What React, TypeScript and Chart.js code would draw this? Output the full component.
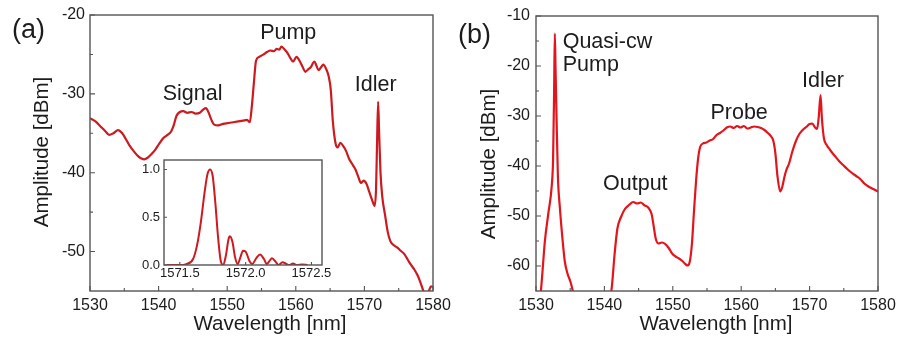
import React, { useEffect, useRef } from "react";
import { Chart, registerables } from "chart.js";

Chart.register(...registerables);

const FONT = "'Liberation Sans', Arial, Helvetica, sans-serif";
const TEXT = "#1c1c1c";
const FRAME = "#555555";

// ---------- Panel (a) ----------
const A_WAVELENGTH = [
  1530.0, 1530.8, 1531.5, 1532.2, 1532.8, 1533.4, 1534.1, 1534.7, 1535.2, 1535.8,
  1536.4, 1537.0, 1537.5, 1537.9, 1538.4, 1538.9, 1539.5, 1540.1, 1540.7, 1541.3,
  1541.8, 1542.2, 1542.6, 1543.1, 1543.6, 1544.2, 1544.8, 1545.4, 1546.0, 1546.5,
  1546.9, 1547.3, 1547.7, 1548.1, 1548.7, 1549.4, 1550.2, 1550.9, 1551.6, 1552.3,
  1552.9, 1553.3, 1553.6, 1553.9, 1554.2, 1554.7, 1555.3, 1555.8, 1556.3, 1556.8,
  1557.2, 1557.6, 1557.9, 1558.3, 1558.7, 1559.1, 1559.6, 1560.1, 1560.6, 1561.0,
  1561.4, 1561.8, 1562.2, 1562.7, 1563.0, 1563.3, 1563.7, 1564.0, 1564.4, 1564.8,
  1565.1, 1565.4, 1565.8, 1566.1, 1566.5, 1566.9, 1567.3, 1567.8, 1568.3, 1568.7,
  1569.1, 1569.5, 1569.9, 1570.3, 1570.7, 1571.1, 1571.5, 1571.7, 1571.85, 1572.0,
  1572.15, 1572.35, 1572.6, 1573.0, 1573.4, 1573.8, 1574.3, 1574.8, 1575.3, 1575.8,
  1576.3, 1576.8, 1577.3, 1577.8, 1578.2, 1578.6, 1579.0, 1579.4, 1579.7, 1580.0,
];
const A_AMPLITUDE = [
  -33.1, -33.5, -34.1, -34.7, -35.2, -35.0, -34.6, -35.0, -35.7, -36.6,
  -37.3, -37.9, -38.2, -38.3, -38.1, -37.7, -37.1, -36.3, -35.6, -35.2,
  -34.8, -34.0, -32.8, -32.3, -32.2, -32.4, -32.3, -32.5, -32.4, -32.0,
  -31.8, -32.4, -33.3, -33.9, -34.0, -33.8, -33.7, -33.6, -33.5, -33.4,
  -33.3, -33.6, -31.5, -28.5, -25.8, -25.3, -25.0, -24.7, -24.5, -24.6,
  -24.3, -24.4, -24.0, -24.3, -24.7, -25.3, -25.9, -25.3, -25.9, -26.6,
  -27.2, -26.9, -26.6, -25.9, -26.4, -27.0, -26.6, -26.3, -26.8, -27.8,
  -29.5, -33.5, -36.3, -36.8, -36.2, -36.6, -37.2, -38.3, -39.0, -39.6,
  -40.5, -41.3, -41.0, -41.4, -42.4, -43.4, -44.2, -42.0, -36.0, -31.0,
  -35.0, -40.0, -43.0, -45.3, -47.5, -48.7, -49.2, -49.5, -49.9, -50.3,
  -51.0, -51.7, -52.3, -53.1, -54.0, -55.0, -55.8, -55.0, -54.4, -54.5,
];
const A_X_TICKS = [1530, 1540, 1550, 1560, 1570, 1580];
const A_X_MINOR = [1535, 1545, 1555, 1565, 1575];
const A_Y_TICKS = [-50, -40, -30, -20];
const A_Y_MINOR = [-45, -35, -25];
const A_LABELS = ["Signal", "Pump", "Idler"];
const A_LABEL_X = [1540.6, 1554.8, 1568.6];
const A_LABEL_Y = [-30.8, -23.1, -29.6];

// ---------- Inset of panel (a) ----------
const INSET_WAVELENGTH = [
  1571.40, 1571.50, 1571.55, 1571.60, 1571.63, 1571.66, 1571.69, 1571.71, 1571.73, 1571.75,
  1571.77, 1571.79, 1571.81, 1571.83, 1571.85, 1571.87, 1571.88, 1571.90, 1571.92, 1571.94,
  1571.96, 1571.98, 1572.00, 1572.03, 1572.05, 1572.08, 1572.11, 1572.14, 1572.16, 1572.18,
  1572.20, 1572.23, 1572.25, 1572.28, 1572.31, 1572.33, 1572.36, 1572.39, 1572.43, 1572.47,
];
const INSET_INTENSITY = [
  0.0, 0.0, 0.01, 0.06, 0.2, 0.45, 0.78, 0.95, 1.0, 0.93,
  0.65, 0.3, 0.05, 0.0, 0.1, 0.27, 0.3, 0.24, 0.08, 0.01,
  0.08, 0.15, 0.14, 0.04, 0.01, 0.07, 0.11, 0.06, 0.01, 0.04,
  0.07, 0.03, 0.0, 0.03, 0.01, 0.0, 0.015, 0.0, 0.005, 0.0,
];
const INSET_X_TICKS = [1571.5, 1572.0, 1572.5];
const INSET_Y_TICKS = [0.0, 0.5, 1.0];

// ---------- Panel (b) ----------
const B_WAVELENGTH = [
  1530.6, 1530.9, 1531.3, 1531.8, 1532.3, 1532.5, 1532.65, 1532.75, 1532.85, 1533.0,
  1533.2, 1533.5, 1533.9, 1534.2, 1534.6, 1535.0, 1535.3, 1535.6, 1538.0, 1540.8,
  1541.1, 1541.5, 1541.9, 1542.4, 1543.0, 1543.6, 1544.2, 1544.8, 1545.3, 1545.9,
  1546.4, 1546.9, 1547.2, 1547.5, 1547.9, 1548.4, 1548.9, 1549.4, 1549.9, 1550.4,
  1550.9, 1551.4, 1551.9, 1552.2, 1552.5, 1552.8, 1553.1, 1553.4, 1553.7, 1554.0,
  1554.4, 1554.9, 1555.4, 1555.9, 1556.4, 1556.9, 1557.4, 1557.9, 1558.4, 1558.9,
  1559.4, 1559.9, 1560.4, 1560.9, 1561.4, 1561.9, 1562.4, 1562.9, 1563.4, 1563.9,
  1564.2, 1564.7, 1565.0, 1565.3, 1565.7, 1566.0, 1566.3, 1566.6, 1567.0, 1567.5,
  1568.0, 1568.5, 1569.0, 1569.5, 1570.0, 1570.4, 1570.8, 1571.1, 1571.35, 1571.6,
  1571.8, 1572.1, 1572.5, 1573.0, 1573.7, 1574.3, 1574.9, 1575.5, 1576.2, 1576.8,
  1577.4, 1578.0, 1578.6, 1579.3, 1580.0,
];
const B_AMPLITUDE = [
  -67, -62, -55, -49.5, -44, -38.5, -25, -13.5, -20, -30,
  -42, -48.5, -55, -59, -61.5, -63, -64.5, -66.5, null, -67,
  -64, -57.5, -52.5, -50.3, -48.6, -47.8, -47.2, -47.5, -47.3, -47.9,
  -48.3, -49.6, -52, -54.5, -55.5, -55.3, -55.6, -56.4, -57.5, -58.1,
  -58.5, -59.0, -59.7, -59.9, -59.0, -55.5, -49, -43, -38.5, -36.2,
  -35.5, -35.3, -34.9, -34.6, -33.8, -33.4, -32.9, -32.3, -32.1, -32.4,
  -32.0, -32.3, -32.0, -32.5, -32.3, -32.1, -32.2, -32.4, -32.8, -33.4,
  -33.8, -35.0, -37.5, -42, -45.1, -44.2, -42.3, -40.8, -39.5, -37.0,
  -35.0, -33.6, -32.8, -32.2, -31.6, -31.5, -32.3, -32.6, -30.0, -25.8,
  -30.5, -34.5, -35.8, -36.8, -38.0, -39.0, -39.8, -40.6, -41.4, -42.0,
  -42.6, -43.5, -44.1, -44.6, -45.1,
];
const B_X_TICKS = [1530, 1540, 1550, 1560, 1570, 1580];
const B_X_MINOR = [1535, 1545, 1555, 1565, 1575];
const B_Y_TICKS = [-60, -50, -40, -30, -20, -10];
const B_Y_MINOR = [-55, -45, -35, -25, -15];
const B_LABELS = ["Quasi-cw", "Pump", "Output", "Probe", "Idler"];
const B_LABEL_X = [1533.9, 1533.9, 1539.8, 1555.5, 1568.9];
const B_LABEL_Y = [-16.3, -20.9, -44.8, -30.5, -24.2];

type Panel = {
  xs: number[];
  ys: (number | null)[];
  color: string;
  lineWidth: number;
  xMin: number; xMax: number; yMin: number; yMax: number;
  xTicks: number[]; yTicks: number[]; xMinor: number[]; yMinor: number[];
  decimals: number;
  tickFont: number;
  xPad: number; yPad: number;
  axisWidth: number; axisHeight: number; padRight: number; padTop: number;
  majorLen: number; minorLen: number;
  labels: string[]; labelX: number[]; labelY: number[]; labelFont: number;
  xTitle?: string; xTitleCx?: number; xTitleBase?: number;
  yTitle?: string; yTitleCx?: number; yTitleCy?: number;
  panel?: string; panelX?: number; panelBase?: number;
  fillArea?: boolean;
};

const decorPlugin = {
  id: "decor",
  beforeDatasetsDraw(chart: any, _a: any, o: any) {
    if (!o.fillArea) return;
    const { ctx, chartArea: a } = chart;
    ctx.save();
    ctx.fillStyle = "#ffffff";
    ctx.fillRect(a.left, a.top, a.right - a.left, a.bottom - a.top);
    ctx.restore();
  },
  afterDatasetsDraw(chart: any, _a: any, o: any) {
    const { ctx, chartArea: a, scales } = chart;
    const sx = scales.x;
    const sy = scales.y;
    ctx.save();
    ctx.strokeStyle = FRAME;
    ctx.lineWidth = 1.4;
    ctx.strokeRect(a.left, a.top, a.right - a.left, a.bottom - a.top);
    ctx.lineWidth = 1.1;
    ctx.beginPath();
    const xt = (vals: number[], len: number) => vals.forEach((v) => {
      const px = sx.getPixelForValue(v);
      ctx.moveTo(px, a.bottom);
      ctx.lineTo(px, a.bottom - len);
    });
    const yt = (vals: number[], len: number) => vals.forEach((v) => {
      const py = sy.getPixelForValue(v);
      ctx.moveTo(a.left, py);
      ctx.lineTo(a.left + len, py);
    });
    xt(o.xTicks, o.majorLen);
    xt(o.xMinor, o.minorLen);
    yt(o.yTicks, o.majorLen);
    yt(o.yMinor, o.minorLen);
    ctx.stroke();

    ctx.fillStyle = TEXT;
    ctx.textBaseline = "alphabetic";
    ctx.textAlign = "left";
    ctx.font = `${o.labelFont}px ${FONT}`;
    o.labels.forEach((t: string, i: number) => {
      ctx.fillText(t, sx.getPixelForValue(o.labelX[i]), sy.getPixelForValue(o.labelY[i]));
    });
    if (o.panel) {
      ctx.font = `27px ${FONT}`;
      ctx.fillText(o.panel, o.panelX, o.panelBase);
    }
    if (o.xTitle) {
      ctx.font = `20.5px ${FONT}`;
      ctx.textAlign = "center";
      ctx.fillText(o.xTitle, o.xTitleCx, o.xTitleBase);
    }
    if (o.yTitle) {
      ctx.font = `20.5px ${FONT}`;
      ctx.textAlign = "center";
      ctx.textBaseline = "middle";
      ctx.translate(o.yTitleCx, o.yTitleCy);
      ctx.rotate(-Math.PI / 2);
      ctx.fillText(o.yTitle, 0, 0);
    }
    ctx.restore();
  },
};

function makeChart(canvas: HTMLCanvasElement, p: Panel) {
  const data = p.xs.map((x, i) => ({ x, y: p.ys[i] }));
  const fmt = (v: any) => Number(v).toFixed(p.decimals);
  return new Chart(canvas, {
    type: "line",
    data: {
      datasets: [
        {
          data: data as any,
          borderColor: p.color,
          borderWidth: p.lineWidth,
          pointRadius: 0,
          fill: false,
          cubicInterpolationMode: "monotone",
          spanGaps: false,
        },
      ],
    },
    plugins: [decorPlugin as any],
    options: {
      responsive: false,
      animation: false,
      devicePixelRatio: 1,
      events: [],
      layout: { autoPadding: false, padding: { left: 0, bottom: 0, right: p.padRight, top: p.padTop } },
      plugins: {
        legend: { display: false },
        tooltip: { enabled: false },
        decor: p as any,
      } as any,
      scales: {
        x: {
          type: "linear",
          min: p.xMin,
          max: p.xMax,
          grid: { display: false, drawTicks: false },
          border: { display: false },
          ticks: {
            font: { family: FONT, size: p.tickFont },
            color: TEXT,
            padding: p.xPad,
            maxRotation: 0,
            autoSkip: false,
            callback: fmt,
          },
          afterBuildTicks: (s: any) => { s.ticks = p.xTicks.map((v) => ({ value: v })); },
          afterFit: (s: any) => { s.height = p.axisHeight; s.paddingLeft = 0; s.paddingRight = 0; },
        },
        y: {
          type: "linear",
          min: p.yMin,
          max: p.yMax,
          grid: { display: false, drawTicks: false },
          border: { display: false },
          ticks: {
            font: { family: FONT, size: p.tickFont },
            color: TEXT,
            padding: p.yPad,
            autoSkip: false,
            callback: fmt,
          },
          afterBuildTicks: (s: any) => { s.ticks = p.yTicks.map((v) => ({ value: v })); },
          afterFit: (s: any) => { s.width = p.axisWidth; s.paddingTop = 0; s.paddingBottom = 0; },
        },
      },
    } as any,
  });
}

const PANEL_A: Panel = {
  xs: A_WAVELENGTH, ys: A_AMPLITUDE, color: "#cc1a1f", lineWidth: 2.2,
  xMin: 1530, xMax: 1580, yMin: -55, yMax: -20,
  xTicks: A_X_TICKS, yTicks: A_Y_TICKS, xMinor: A_X_MINOR, yMinor: A_Y_MINOR,
  decimals: 0, tickFont: 16, xPad: 5, yPad: 5,
  axisWidth: 90, axisHeight: 48, padRight: 37, padTop: 15,
  majorLen: 5, minorLen: 3,
  labels: A_LABELS, labelX: A_LABEL_X, labelY: A_LABEL_Y, labelFont: 21.5,
  xTitle: "Wavelength [nm]", xTitleCx: 270, xTitleBase: 330,
  yTitle: "Amplitude [dBm]", yTitleCx: 42, yTitleCy: 152,
  panel: "(a)", panelX: 12, panelBase: 38,
};

const PANEL_B: Panel = {
  xs: B_WAVELENGTH, ys: B_AMPLITUDE, color: "#e3141c", lineWidth: 2.2,
  xMin: 1530, xMax: 1580, yMin: -65, yMax: -10,
  xTicks: B_X_TICKS, yTicks: B_Y_TICKS, xMinor: B_X_MINOR, yMinor: B_Y_MINOR,
  decimals: 0, tickFont: 16, xPad: 5, yPad: 6,
  axisWidth: 86, axisHeight: 48, padRight: 23, padTop: 16,
  majorLen: 5, minorLen: 3,
  labels: B_LABELS, labelX: B_LABEL_X, labelY: B_LABEL_Y, labelFont: 21.5,
  xTitle: "Wavelength [nm]", xTitleCx: 266, xTitleBase: 330,
  yTitle: "Amplitude [dBm]", yTitleCx: 39, yTitleCy: 164,
  panel: "(b)", panelX: 8, panelBase: 43,
};

const INSET: Panel = {
  xs: INSET_WAVELENGTH, ys: INSET_INTENSITY, color: "#d0181e", lineWidth: 2,
  xMin: 1571.38, xMax: 1572.58, yMin: 0, yMax: 1.1,
  xTicks: INSET_X_TICKS, yTicks: INSET_Y_TICKS, xMinor: [], yMinor: [],
  decimals: 1, tickFont: 13, xPad: 1, yPad: 4,
  axisWidth: 44, axisHeight: 25, padRight: 18, padTop: 10,
  majorLen: 3, minorLen: 2,
  labels: [], labelX: [], labelY: [], labelFont: 13,
  fillArea: true,
};

export default function App() {
  const aRef = useRef<HTMLCanvasElement>(null);
  const bRef = useRef<HTMLCanvasElement>(null);
  const iRef = useRef<HTMLCanvasElement>(null);

  useEffect(() => {
    const charts = [
      makeChart(aRef.current!, PANEL_A),
      makeChart(bRef.current!, PANEL_B),
      makeChart(iRef.current!, INSET),
    ];
    return () => charts.forEach((c) => c.destroy());
  }, []);

  return (
    <div style={{ position: "absolute", left: 0, top: 0, width: 901, height: 339, background: "#ffffff", overflow: "hidden" }}>
      <canvas ref={aRef} width={470} height={339} style={{ position: "absolute", left: 0, top: 0, width: 470, height: 339 }} />
      <canvas ref={bRef} width={451} height={339} style={{ position: "absolute", left: 450, top: 0, width: 451, height: 339 }} />
      <canvas ref={iRef} width={220} height={140} style={{ position: "absolute", left: 120, top: 150, width: 220, height: 140 }} />
    </div>
  );
}
